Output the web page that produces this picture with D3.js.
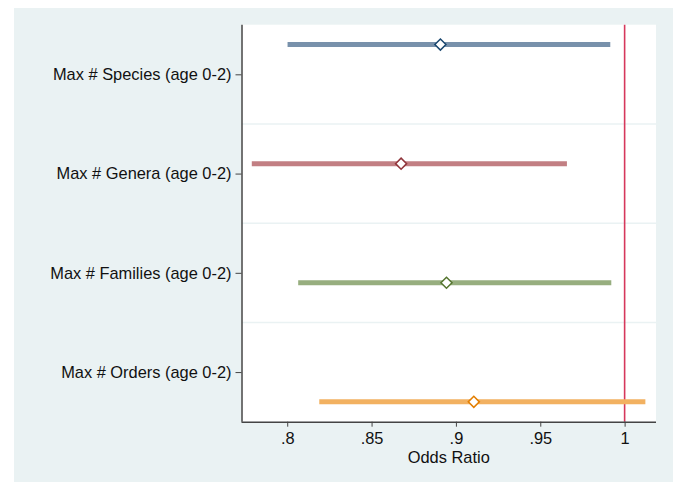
<!DOCTYPE html>
<html lang="en">
<head>
<meta charset="UTF-8">
<title>Odds Ratio coefplot</title>
<style>
html, body { margin: 0; padding: 0; background: #fff; }
svg { display: block; font-family: 'Liberation Sans', Arial, sans-serif; }
.axis text { font-size: 16.4px; fill: #111; }
.axis path, .axis line { stroke: #444; }
</style>
</head>
<body>
<svg width="678" height="483"></svg>
<script src="https://cdnjs.cloudflare.com/ajax/libs/d3/7.8.5/d3.min.js"></script>
<script>
// values
const labels = [
  'Max # Species (age 0-2)',
  'Max # Genera (age 0-2)',
  'Max # Families (age 0-2)',
  'Max # Orders (age 0-2)'
];
const estimates = [0.8908, 0.8675, 0.8944, 0.9106];
const lower = [0.8002, 0.7790, 0.8065, 0.8190];
const upper = [0.9915, 0.9658, 0.9921, 1.0123];
const xTicks = [0.8, 0.85, 0.9, 0.95, 1];
const xTickLabels = ['.8', '.85', '.9', '.95', '1'];
const refValue = 1;

const barColors = ['#7891ab', '#c27f83', '#97ae7f', '#f2b161'];
const markColors = ['#1a476f', '#90353b', '#55752f', '#e37e00'];

const svg = d3.select('svg');

const plot = { left: 241.5, right: 656, top: 24.7, bottom: 421.7 };

// outer background
svg.append('rect')
  .attr('x', 14).attr('y', 8)
  .attr('width', 659).attr('height', 474)
  .attr('fill', '#eaf2f3');

svg.append('rect')
  .attr('x', plot.left).attr('y', plot.top)
  .attr('width', plot.right - plot.left)
  .attr('height', plot.bottom - plot.top)
  .attr('fill', '#fff');

const x = d3.scaleLinear()
  .domain([0.7729, 1.0186])
  .range([plot.left, plot.right]);

const y = d3.scaleLinear()
  .domain([0.5, labels.length + 0.5])
  .range([plot.top, plot.bottom]);

// grid lines between categories
svg.append('g')
  .selectAll('line')
  .data(d3.range(1.5, labels.length, 1))
  .enter()
  .append('line')
  .attr('x1', plot.left).attr('x2', plot.right)
  .attr('y1', d => y(d)).attr('y2', d => y(d))
  .attr('stroke', '#eaf2f3')
  .attr('stroke-width', 1.5);

// reference line at 1
svg.append('line')
  .attr('x1', x(refValue)).attr('x2', x(refValue))
  .attr('y1', plot.top).attr('y2', plot.bottom)
  .attr('stroke', '#d6385c')
  .attr('stroke-width', 1.6);

const rows = labels.map((l, i) => ({
  label: l,
  est: estimates[i],
  lo: lower[i],
  hi: upper[i],
  pos: i + 1 + (i - 1.5) * 0.2,
  i: i
}));

const g = svg.append('g');

g.selectAll('line.ci')
  .data(rows)
  .enter()
  .append('line')
  .attr('class', 'ci')
  .attr('x1', d => x(d.lo)).attr('x2', d => x(d.hi))
  .attr('y1', d => y(d.pos)).attr('y2', d => y(d.pos))
  .attr('stroke', d => barColors[d.i])
  .attr('stroke-width', 5);

g.selectAll('path.mark')
  .data(rows)
  .enter()
  .append('path')
  .attr('class', 'mark')
  .attr('d', d3.symbol().type(d3.symbolDiamond2).size(78))
  .attr('transform', d => 'translate(' + x(d.est) + ',' + y(d.pos) + ')')
  .attr('fill', '#fff')
  .attr('stroke', d => markColors[d.i])
  .attr('stroke-width', 1.5);

// axes
const xAxis = svg.append('g')
  .attr('class', 'axis')
  .attr('transform', 'translate(0,' + plot.bottom + ')')
  .call(d3.axisBottom(x)
    .tickValues(xTicks)
    .tickSize(5)
    .tickPadding(6)
    .tickFormat((d, i) => xTickLabels[i]));
xAxis.select('.domain').attr('d', 'M' + plot.left + ',0.5H' + plot.right).attr('stroke-width', 1.5);

const yAxis = svg.append('g')
  .attr('class', 'axis')
  .attr('transform', 'translate(' + plot.left + ',0)')
  .call(d3.axisLeft(y)
    .tickValues(d3.range(1, labels.length + 1))
    .tickSize(6)
    .tickPadding(4)
    .tickFormat(d => labels[d - 1]));
yAxis.select('.domain').attr('d', 'M0.5,' + plot.top + 'V' + plot.bottom).attr('stroke-width', 1.5);

svg.append('text')
  .attr('x', (plot.left + plot.right) / 2)
  .attr('y', 463)
  .attr('text-anchor', 'middle')
  .attr('font-size', 16.4)
  .attr('fill', '#111')
  .text('Odds Ratio');
</script>
</body>
</html>
